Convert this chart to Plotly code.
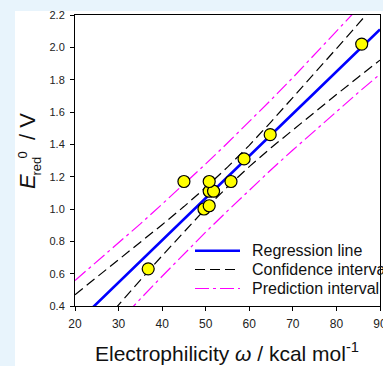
import plotly.graph_objects as go

# ---- data ----
omega = [36.8, 45.0, 49.6, 50.8, 50.8, 51.8, 50.8, 55.8, 58.8, 64.8, 85.8]
e_red = [0.63, 1.17, 1.00, 1.02, 1.11, 1.11, 1.17, 1.17, 1.31, 1.46, 2.02]

line_x = [20, 25, 30, 35, 40, 45, 50, 55, 60, 65, 70, 75, 80, 85, 90]
regression = [0.285, 0.416, 0.546, 0.676, 0.807, 0.937, 1.068, 1.198, 1.328, 1.459, 1.589, 1.719, 1.850, 1.980, 2.110]
conf_upper = [0.470, 0.578, 0.684, 0.792, 0.903, 1.015, 1.133, 1.259, 1.394, 1.539, 1.688, 1.839, 1.992, 2.145, 2.299]
conf_lower = [0.100, 0.255, 0.408, 0.560, 0.711, 0.859, 1.003, 1.137, 1.262, 1.379, 1.490, 1.600, 1.708, 1.815, 1.921]
pred_upper = [0.558, 0.674, 0.790, 0.908, 1.030, 1.153, 1.279, 1.408, 1.540, 1.675, 1.813, 1.953, 2.096, 2.240, 2.386]
pred_lower = [0.012, 0.158, 0.302, 0.444, 0.584, 0.722, 0.857, 0.988, 1.116, 1.243, 1.365, 1.485, 1.604, 1.720, 1.834]

x_ticks = [20, 30, 40, 50, 60, 70, 80, 90]
y_ticks = [0.4, 0.6, 0.8, 1.0, 1.2, 1.4, 1.6, 1.8, 2.0, 2.2]

legend_labels = ["Regression line", "Confidence interval", "Prediction interval"]

# ---- layout geometry (pixels) ----
W, H = 383, 366
L, R, T, B = 75, 3, 15, 60
PW, PH = W - L - R, H - T - B

def px(x):
    return (x - L) / PW

def py(y):
    return (H - B - y) / PH

BLUE = "#0000ff"
MAG = "#ff00ff"
BG = "#e8f4fc"
CI_DASH = "10px,5px"
PI_DASH = "14px,4px,3px,4px"
FONT = "Liberation Sans, Arial, sans-serif"

fig = go.Figure()
for yy in (pred_upper, pred_lower):
    fig.add_trace(go.Scatter(x=line_x, y=yy, mode="lines",
                             line=dict(color=MAG, width=1.2, dash=PI_DASH),
                             showlegend=False, hoverinfo="skip"))
for yy in (conf_upper, conf_lower):
    fig.add_trace(go.Scatter(x=line_x, y=yy, mode="lines",
                             line=dict(color="black", width=1.2, dash=CI_DASH),
                             showlegend=False, hoverinfo="skip"))
fig.add_trace(go.Scatter(x=line_x, y=regression, mode="lines",
                         line=dict(color=BLUE, width=2.6),
                         showlegend=False, hoverinfo="skip"))
fig.add_trace(go.Scatter(x=omega, y=e_red, mode="markers",
                         marker=dict(size=12, color="#ffff00",
                                     line=dict(color="black", width=1.2)),
                         showlegend=False, cliponaxis=False))

shapes = [
    dict(type="rect", xref="paper", yref="paper", layer="below",
         x0=px(15), x1=px(W + 20), y0=py(H + 20), y1=py(11),
         fillcolor="white", line=dict(width=0)),
]
# manual legend
leg_y = [250.7, 269.5, 288.5]
leg_styles = [dict(color=BLUE, width=2.6),
              dict(color="black", width=1.2, dash=CI_DASH),
              dict(color=MAG, width=1.2, dash=PI_DASH)]
annotations = []
for ly, st, lab in zip(leg_y, leg_styles, legend_labels):
    shapes.append(dict(type="line", xref="paper", yref="paper",
                       x0=px(195), x1=px(240), y0=py(ly), y1=py(ly), line=st))
    annotations.append(dict(xref="paper", yref="paper", x=px(250), y=py(ly),
                            xanchor="left", yanchor="middle", showarrow=False,
                            text=lab, font=dict(size=16, color="#111", family=FONT)))

# x-axis title
annotations.append(dict(xref="paper", yref="paper", x=px(227), y=py(352),
                        xanchor="center", yanchor="middle", showarrow=False,
                        text="Electrophilicity <i>ω</i> / kcal mol<sup>-1</sup>",
                        font=dict(size=21, color="#111", family=FONT)))
# y-axis title pieces
annotations += [
    dict(xref="paper", yref="paper", x=px(27), y=py(181), textangle=-90,
         xanchor="center", yanchor="middle", showarrow=False,
         text="<i>E</i>", font=dict(size=22, color="#111", family=FONT)),
    dict(xref="paper", yref="paper", x=px(36.5), y=py(166), textangle=-90,
         xanchor="center", yanchor="middle", showarrow=False,
         text="red", font=dict(size=13, color="#111", family=FONT)),
    dict(xref="paper", yref="paper", x=px(21.5), y=py(155), textangle=-90,
         xanchor="center", yanchor="middle", showarrow=False,
         text="0", font=dict(size=13, color="#111", family=FONT)),
    dict(xref="paper", yref="paper", x=px(28), y=py(127), textangle=-90,
         xanchor="center", yanchor="middle", showarrow=False,
         text="/ V", font=dict(size=22, color="#111", family=FONT)),
]

axis_common = dict(showline=True, linecolor="black", linewidth=1, mirror=True,
                   ticks="outside", ticklen=4, tickwidth=1, tickcolor="black",
                   showgrid=False, zeroline=False, ticklabelstandoff=3,
                   automargin=False)

fig.update_layout(
    width=W, height=H,
    margin=dict(l=L, r=R, t=T, b=B, autoexpand=False),
    paper_bgcolor=BG, plot_bgcolor="white",
    font=dict(family=FONT, color="#222"),
    shapes=shapes, annotations=annotations,
    xaxis=dict(range=[20, 90], tickvals=x_ticks, ticktext=[str(v) for v in x_ticks],
               tickfont=dict(size=12, color="#222"), ticklabeloverflow="allow",
               **axis_common),
    yaxis=dict(range=[0.4, 2.2], tickvals=y_ticks, ticktext=[f"{v:.1f}" for v in y_ticks],
               tickfont=dict(size=11, color="#222"), **axis_common),
    showlegend=False,
)

fig.write_html("out.html",
               config={"displayModeBar": False},
               post_script="document.body.style.margin='0';"
                           "document.body.style.overflow='hidden';"
                           "document.body.style.background='" + BG + "';")
